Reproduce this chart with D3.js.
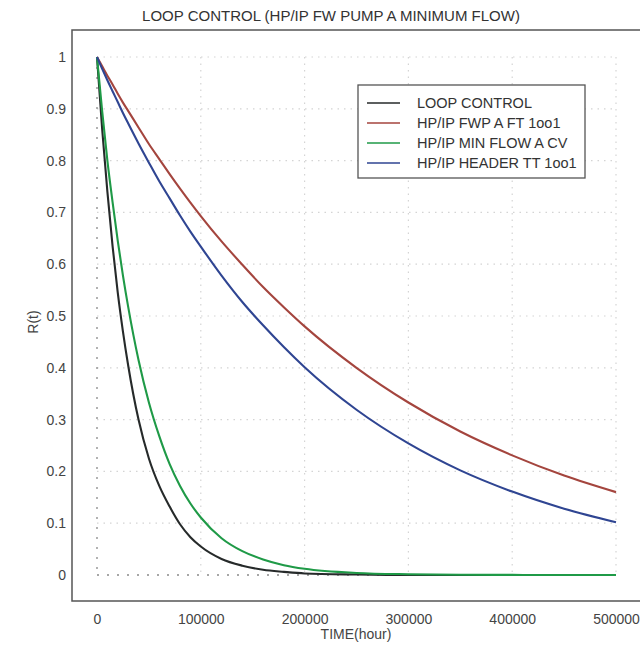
<!DOCTYPE html>
<html>
<head>
<meta charset="utf-8">
<script src="https://cdn.jsdelivr.net/npm/d3@7/dist/d3.min.js"></script>
<style>
  html, body { margin: 0; padding: 0; background: #fff; }
  svg { display: block; font-family: "Liberation Sans", Arial, sans-serif; }
</style>
</head>
<body>
<svg id="chart" width="640" height="645"></svg>
<script>
// Operating time (hours) shared by every series
const timeHours = [0, 5000, 10000, 15000, 20000, 25000, 30000, 40000, 50000, 60000, 70000,
  80000, 90000, 100000, 120000, 140000, 160000, 180000, 200000, 250000, 300000,
  350000, 400000, 450000, 500000];

// Reliability R(t) of each element
const loopControl = [1, 0.86, 0.74, 0.635, 0.545, 0.47, 0.405, 0.30, 0.225, 0.172, 0.132,
  0.098, 0.073, 0.055, 0.031, 0.018, 0.010, 0.006, 0.003, 0.001, 0, 0, 0, 0, 0];
const fwpFt = [1, 0.982, 0.964, 0.947, 0.929, 0.912, 0.896, 0.864, 0.832, 0.803, 0.774,
  0.746, 0.719, 0.693, 0.644, 0.599, 0.556, 0.517, 0.480, 0.400, 0.333,
  0.277, 0.231, 0.192, 0.160];
const minFlowCv = [1, 0.895, 0.80, 0.72, 0.645, 0.578, 0.518, 0.415, 0.333, 0.268, 0.214,
  0.172, 0.138, 0.111, 0.071, 0.046, 0.030, 0.019, 0.012, 0.004, 0.0015,
  0.0005, 0.0002, 0, 0];
const headerTt = [1, 0.977, 0.955, 0.934, 0.913, 0.892, 0.872, 0.833, 0.796, 0.760, 0.727,
  0.694, 0.663, 0.634, 0.578, 0.527, 0.482, 0.440, 0.401, 0.319, 0.254,
  0.202, 0.161, 0.128, 0.102];

const seriesNames = ["LOOP CONTROL", "HP/IP FWP A FT 1oo1", "HP/IP MIN FLOW A CV", "HP/IP HEADER TT 1oo1"];
const seriesValues = [loopControl, fwpFt, minFlowCv, headerTt];
const seriesColors = ["#262a2a", "#a4453e", "#1f9a47", "#2f4592"];

const xTicks = [0, 100000, 200000, 300000, 400000, 500000];
const yTicks = [0, 0.1, 0.2, 0.3, 0.4, 0.5, 0.6, 0.7, 0.8, 0.9, 1];

const svg = d3.select("#chart");

const x = d3.scaleLinear().domain([0, 500000]).range([97, 616]);
const y = d3.scaleLinear().domain([0, 1]).range([575, 57]);

// Title
svg.append("text")
  .attr("x", 331).attr("y", 21)
  .attr("text-anchor", "middle")
  .attr("font-size", 15)
  .attr("fill", "#333")
  .text("LOOP CONTROL (HP/IP FW PUMP A MINIMUM FLOW)");

// Faint dotted grid
const grid = svg.append("g").attr("stroke", "#d4d4d4").attr("stroke-width", 1.2)
  .attr("stroke-dasharray", "1.5,5");
grid.selectAll("line.v").data(xTicks.slice(1)).join("line")
  .attr("x1", d => x(d)).attr("x2", d => x(d))
  .attr("y1", y(1)).attr("y2", y(0));
grid.selectAll("line.h").data(yTicks.slice(1)).join("line")
  .attr("x1", x(0)).attr("x2", x(500000))
  .attr("y1", d => y(d)).attr("y2", d => y(d));

// Darker dotted zero lines
const zero = svg.append("g").attr("stroke", "#8a8a8a").attr("stroke-width", 1.3)
  .attr("stroke-dasharray", "2,8");
zero.append("line").attr("x1", x(0)).attr("x2", x(0)).attr("y1", y(1)).attr("y2", y(0));
zero.append("line").attr("x1", x(0)).attr("x2", x(500000)).attr("y1", y(0)).attr("y2", y(0));

// Plot frame
svg.append("path")
  .attr("d", "M645,30 H72 V601 H645")
  .attr("fill", "none").attr("stroke", "#555").attr("stroke-width", 1.5);

// Axes (labels only)
const xAxis = svg.append("g").attr("transform", "translate(0,601)")
  .call(d3.axisBottom(x).tickValues(xTicks).tickSize(0).tickPadding(13).tickFormat(d3.format("d")));
const yAxis = svg.append("g").attr("transform", "translate(72,0)")
  .call(d3.axisLeft(y).tickValues(yTicks).tickSize(0).tickPadding(6).tickFormat(d => d3.format("~g")(d)));
[xAxis, yAxis].forEach(a => {
  a.select(".domain").remove();
  a.selectAll("text").attr("font-size", 14).attr("fill", "#444")
    .attr("font-family", "'Liberation Sans', Arial, sans-serif");
});

// Axis titles
svg.append("text")
  .attr("x", 356).attr("y", 639)
  .attr("text-anchor", "middle").attr("font-size", 14).attr("fill", "#444")
  .text("TIME(hour)");
svg.append("text")
  .attr("transform", "translate(38,322) rotate(-90)")
  .attr("text-anchor", "middle").attr("font-size", 14).attr("fill", "#444")
  .text("R(t)");

// Reliability curves
const line = d3.line()
  .x((d, i) => x(timeHours[i]))
  .y(d => y(d))
  .curve(d3.curveMonotoneX);

svg.append("g").selectAll("path").data(seriesValues).join("path")
  .attr("d", line)
  .attr("fill", "none")
  .attr("stroke", (d, i) => seriesColors[i])
  .attr("stroke-width", 2.1)
  .attr("stroke-linejoin", "round");

// Legend
const legend = svg.append("g");
legend.append("rect")
  .attr("x", 358).attr("y", 85).attr("width", 227).attr("height", 93)
  .attr("fill", "#fff").attr("stroke", "#555").attr("stroke-width", 1.3);
const rows = legend.selectAll("g.row").data(seriesNames).join("g")
  .attr("transform", (d, i) => `translate(0,${103 + i * 20})`);
rows.append("line")
  .attr("x1", 367).attr("x2", 400)
  .attr("stroke", (d, i) => seriesColors[i]).attr("stroke-width", 1.3);
rows.append("text")
  .attr("x", 417).attr("y", 5)
  .attr("font-size", 14.5).attr("fill", "#333")
  .text(d => d);
</script>
</body>
</html>
